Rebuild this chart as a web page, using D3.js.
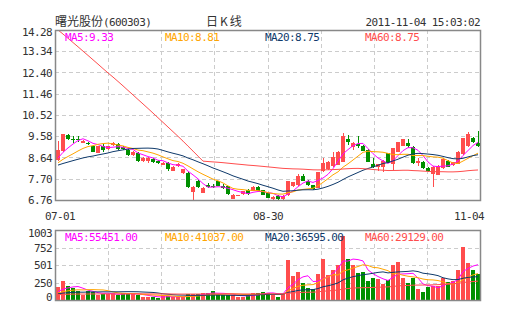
<!DOCTYPE html>
<html><head><meta charset="utf-8">
<script src="https://cdn.jsdelivr.net/npm/d3@7"></script>
<style>body{margin:0;background:#fff}svg{display:block}</style>
</head><body>
<svg id="c" width="505" height="330"></svg>
<script>
const dates = ["07-01","07-04","07-05","07-06","07-07","07-08","07-11","07-12","07-13","07-14","07-15","07-18","07-19","07-20","07-21","07-22","07-25","07-26","07-27","07-28","07-29",
"08-01","08-02","08-03","08-04","08-05","08-08","08-09","08-10","08-11","08-12","08-15","08-16","08-17","08-18","08-19","08-22","08-23","08-24","08-25","08-26","08-29","08-30","08-31",
"09-01","09-02","09-05","09-06","09-07","09-08","09-09","09-13","09-14","09-15","09-16","09-19","09-20","09-21","09-22","09-23","09-26","09-27","09-28","09-29","09-30",
"10-10","10-11","10-12","10-13","10-14","10-17","10-18","10-19","10-20","10-21","10-24","10-25","10-26","10-27","10-28","10-31",
"11-01","11-02","11-03","11-04"];
const open  = [8.53,8.93,9.63,9.45,9.45,9.30,9.30,9.16,8.86,9.15,9.01,9.19,9.23,9.10,8.97,8.74,8.85,8.50,8.50,8.57,8.48,8.32,8.40,8.06,8.26,7.94,7.95,7.12,7.60,7.08,7.42,7.38,7.58,7.40,7.36,6.82,6.96,7.02,7.20,7.17,7.34,7.20,7.05,6.81,6.93,6.81,7.00,7.36,7.42,7.84,7.60,7.42,7.31,8.04,8.12,8.25,8.32,8.45,9.46,9.12,9.25,9.15,8.97,8.34,8.22,8.20,8.82,8.35,8.90,9.17,9.27,9.12,8.38,8.45,8.18,7.90,7.88,8.17,8.48,8.31,8.36,8.78,9.15,9.49,9.30];
const high  = [9.37,9.70,9.70,9.59,9.58,9.40,9.33,9.20,9.16,9.22,9.16,9.34,9.26,9.14,9.00,8.93,8.88,8.66,8.68,8.60,8.52,8.42,8.42,8.25,8.38,8.14,8.01,7.36,7.64,7.32,7.50,7.46,7.62,7.45,7.38,7.02,7.00,7.18,7.24,7.36,7.38,7.22,7.08,6.92,6.96,6.98,7.62,7.56,7.90,7.90,7.64,7.44,8.00,8.60,8.50,8.90,8.92,9.74,9.65,9.32,9.58,9.18,9.00,8.60,8.36,8.52,8.85,9.07,9.34,9.48,9.45,9.15,8.62,8.48,8.22,8.25,8.30,8.60,8.52,8.46,8.92,9.52,9.75,9.56,9.82];
const low   = [8.50,8.90,9.41,9.27,9.31,9.26,9.18,8.88,8.84,8.90,8.98,9.17,8.98,8.98,8.72,8.70,8.42,8.44,8.40,8.40,8.35,8.30,8.05,8.03,8.22,7.90,7.28,6.78,7.30,7.05,7.28,7.28,7.36,7.25,7.00,6.80,6.92,7.00,7.00,7.15,7.14,6.96,6.84,6.78,6.78,6.78,6.95,7.33,7.40,7.58,7.38,7.22,7.28,8.00,8.08,8.22,8.30,8.42,9.20,8.95,9.05,8.92,8.42,8.17,8.05,8.00,8.38,8.10,8.88,9.15,9.05,8.36,8.25,8.15,8.00,7.32,7.85,8.15,8.22,8.28,8.34,8.75,9.12,9.28,9.12];
const close = [8.95,9.68,9.46,9.42,9.43,9.36,9.22,8.90,9.15,8.99,9.14,9.30,9.02,9.02,8.75,8.90,8.50,8.64,8.62,8.44,8.38,8.41,8.15,8.23,8.35,8.12,7.33,7.33,7.35,7.30,7.33,7.35,7.40,7.30,7.02,7.00,6.98,7.16,7.03,7.34,7.17,6.99,6.87,6.90,6.81,6.95,7.60,7.54,7.84,7.62,7.42,7.26,7.98,8.38,8.44,8.68,8.90,9.59,9.34,9.30,9.15,8.94,8.45,8.21,8.34,8.50,8.40,9.05,9.32,9.45,9.16,8.38,8.48,8.17,8.03,8.23,8.28,8.58,8.24,8.43,8.90,9.49,9.68,9.34,9.15];
// volume in 10,000 shares (axis units)
const volume = [191,272,200,167,134,72,129,120,72,86,80,95,72,95,105,80,72,38,38,48,34,58,58,38,38,48,86,86,80,95,105,134,72,72,72,72,48,38,67,105,105,120,105,72,48,86,573,344,406,248,167,158,372,587,358,430,501,917,583,501,392,406,272,315,296,229,286,501,540,310,248,315,158,120,191,205,200,315,258,272,430,764,535,430,372];
// 59 sessions before 07-01 (needed for moving averages, unadjusted)
const preClose = [20.5,20.6,20.8,20.7,20.9,20.6,20.5,20.7,20.8,20.6,20.4,20.6,20.7,20.9,20.8,20.6,20.5,20.7,20.6,20.8,20.7,20.5,20.6,20.7,20.8,20.6,20.5,20.7,20.6,
8.40,8.35,8.30,8.42,8.38,8.30,8.28,8.35,8.40,8.32,8.30,
8.25,8.20,8.15,8.22,8.18,8.25,8.20,8.15,8.18,8.22,
8.15,8.20,8.25,8.18,8.22,
8.40,8.50,8.55,8.67];
const preVolume = [70,65,80,60,75,90,55,70,85,60,65,75,80,70,60,55,90,85,70,65,60,75,80,70,65,60,85,70,75,65,60,70,80,75,65,70,60,85,70,75,
80,70,90,65,75,85,80,70,60,95,85,70,75,80,90,
95,110,100,105];
const priceTicks = ["14.28","13.34","12.40","11.46","10.52","9.58","8.64","7.70","6.76"];
const volTicks = ["1003","752","501","250","0"];
const dateTicks = ["07-01","08-30","11-04"];
const maPeriods = [5,10,20,60];
const maColors = ["#ff00ff","#ffa500","#0f3a6b","#ff4d4d"];
const priceLegend = ["MA5:9.33","MA10:8.81","MA20:8.75","MA60:8.75"];
const volLegend = ["MA5:55451.00","MA10:41037.00","MA20:36595.00","MA60:29129.00"];
const titleName = "曙光股份", titleCode = "(600303)", titleKind = "日K线", titleTime = "2011-11-04 15:03:02";

const UP = "#ff4d4d", DOWN = "#009000", GRID = "#cccccc", FRAME = "#888888", TXT = "#333333";
const MONO = "'DejaVu Sans Mono', monospace";
const CJK = "'Noto Sans CJK SC', sans-serif";

const svg = d3.select("#c");
const L = 55, R = 480, PT = 30, PB = 200, VT = 230, VB = 300;
const n = close.length;
const idx = d3.range(n);
const x = d3.scaleBand().domain(idx).range([L, R]).paddingInner(0.2).paddingOuter(0.1).round(true);
const bw = x.bandwidth();
const cx = i => x(i) + Math.floor(bw / 2) + 0.5;
const pNum = priceTicks.map(Number), vNum = volTicks.map(Number);
const yP = d3.scaleLinear().domain(d3.extent(pNum)).range([PB, PT]);
const yV = d3.scaleLinear().domain(d3.extent(vNum)).range([VB, VT]);
const gx = d3.scaleLinear().domain([0, 8]).range([L, R]);

function ma(pre, arr, p) {
  const all = pre.concat(arr), off = pre.length;
  return arr.map((_, i) => d3.mean(all.slice(off + i - p + 1, off + i + 1)));
}

// grids
function grid(top, bot, yvals, ys) {
  const g = svg.append("g").attr("stroke", GRID).attr("stroke-dasharray", "4,3").attr("shape-rendering", "crispEdges");
  g.selectAll("line.h").data(yvals.slice(1, -1)).join("line")
    .attr("x1", L).attr("x2", R).attr("y1", d => Math.round(ys(d)) + 0.5).attr("y2", d => Math.round(ys(d)) + 0.5);
  g.selectAll("line.v").data(d3.range(1, 8)).join("line")
    .attr("y1", top).attr("y2", bot).attr("x1", d => Math.round(gx(d)) + 0.5).attr("x2", d => Math.round(gx(d)) + 0.5);
}
grid(PT, PB, pNum, yP);
grid(VT, VB, vNum, yV);

// candles
const cg = svg.append("g").attr("shape-rendering", "crispEdges");
const col = i => close[i] >= open[i] ? UP : DOWN;
cg.selectAll("line").data(idx).join("line")
  .attr("x1", cx).attr("x2", cx).attr("y1", i => yP(high[i])).attr("y2", i => yP(low[i])).attr("stroke", col);
cg.selectAll("rect").data(idx).join("rect")
  .attr("x", i => x(i)).attr("width", bw)
  .attr("y", i => yP(Math.max(open[i], close[i])))
  .attr("height", i => Math.max(1, Math.abs(yP(open[i]) - yP(close[i]))))
  .attr("fill", col);

// volume bars
svg.append("g").attr("shape-rendering", "crispEdges").selectAll("rect").data(idx).join("rect")
  .attr("x", i => x(i)).attr("width", bw)
  .attr("y", i => yV(volume[i])).attr("height", i => yV(0) - yV(volume[i]))
  .attr("fill", col);

// moving average lines
const clipP = svg.append("clipPath").attr("id", "cp").append("rect").attr("x", L).attr("y", PT).attr("width", R - L).attr("height", PB - PT);
const clipV = svg.append("clipPath").attr("id", "cv").append("rect").attr("x", L).attr("y", VT).attr("width", R - L).attr("height", VB - VT);
maPeriods.forEach((p, k) => {
  const mp = ma(preClose, close, p);
  svg.append("path").attr("clip-path", "url(#cp)").attr("fill", "none").attr("stroke", maColors[k]).attr("stroke-width", 1)
    .attr("d", d3.line().x((d, i) => x(i) + bw / 2).y(d => yP(d))(mp));
  const mv = ma(preVolume, volume, p);
  svg.append("path").attr("clip-path", "url(#cv)").attr("fill", "none").attr("stroke", maColors[k]).attr("stroke-width", 1)
    .attr("d", d3.line().x((d, i) => x(i) + bw / 2).y(d => yV(d))(mv));
});

// frames
[[PT, PB], [VT, VB]].forEach(([t, b]) => {
  svg.append("rect").attr("x", L + 0.5).attr("y", t + 0.5).attr("width", R - L).attr("height", b - t)
    .attr("fill", "none").attr("stroke", FRAME).attr("stroke-width", 1.5);
});

const txt = (s, xx, yy, color, anchor, font, size, ls) => svg.append("text").text(s)
  .attr("x", xx).attr("y", yy).attr("fill", color).attr("text-anchor", anchor || "start")
  .attr("font-family", font || MONO).attr("font-size", size || 11).attr("letter-spacing", ls == null ? -0.6 : ls);

// y axis labels
priceTicks.forEach((t, k) => {
  let yy = yP(pNum[k]) + 4;
  if (k === 0) yy += 2;
  txt(t, 52, yy, TXT, "end");
});
volTicks.forEach((t, k) => {
  let yy = yV(vNum[k]) + 4;
  if (k === 0) yy += 3;
  if (k === volTicks.length - 1) yy -= 3;
  txt(t, 52, yy, TXT, "end");
});
// date labels
dateTicks.forEach(t => {
  const i = dates.indexOf(t);
  let c = x(i) + bw / 2;
  c = Math.max(L + 5, Math.min(R - 11, c));
  txt(t, c, 220, TXT, "middle");
});
// legends
const legX = [65, 165, 265, 365];
priceLegend.forEach((s, k) => txt(s, legX[k], 41, maColors[k]));
volLegend.forEach((s, k) => txt(s, legX[k], 241, maColors[k]));
// title
txt(titleName, 55, 26, TXT, "start", CJK, 12, 0);
txt(titleCode, 103, 26, TXT, "start");
txt(titleKind, 206, 26, TXT, "start", CJK, 12, 2);
txt(titleTime, 480, 26, TXT, "end");
</script>
</body></html>
